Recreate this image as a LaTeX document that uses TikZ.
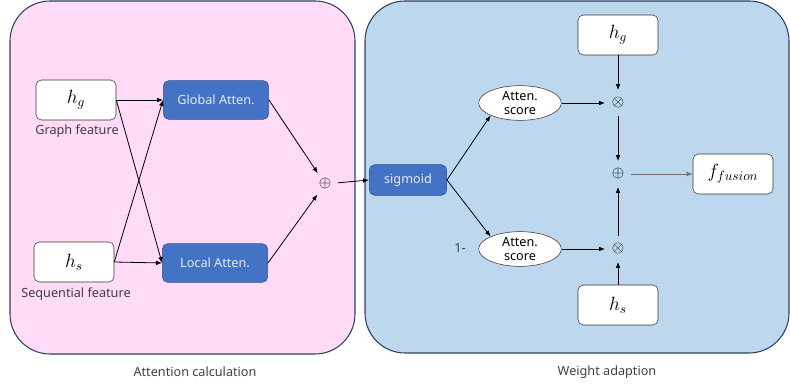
\documentclass[tikz,border=0pt]{standalone}
\usepackage{fontspec}
\setmainfont{Noto Sans}
\usetikzlibrary{shapes.geometric,arrows.meta}

\definecolor{pinkbg}{RGB}{255,219,247}
\definecolor{bluebg}{RGB}{189,215,238}
\definecolor{panelline}{RGB}{47,64,96}
\definecolor{attfill}{RGB}{68,114,196}
\definecolor{attline}{RGB}{47,82,143}
\definecolor{labelgray}{RGB}{64,64,64}

\begin{document}
\begin{tikzpicture}[x=0.75pt, y=-0.75pt, font=\fontsize{9.5}{10.5}\selectfont,
    panel/.style={draw=panelline, line width=0.8pt, rounded corners=30pt},
    featbox/.style={draw=black!80, fill=white, rounded corners=4pt, minimum width=60pt, minimum height=30pt, font=\Large},
    attbox/.style={draw=attline, fill=attfill, text=white!85!attfill, rounded corners=4pt, minimum width=79pt, minimum height=29pt},
    scorenode/.style={ellipse, draw=black!80, fill=white, minimum width=62pt, minimum height=26pt, inner sep=0pt, align=center, font=\fontsize{9.5}{11}\selectfont},
    opnode/.style={circle, inner sep=0pt, minimum size=19pt, font=\large},
    caption/.style={text=labelgray},
    arr/.style={-{Latex[length=4.5pt,width=3.5pt]}, line width=0.6pt}]

    \useasboundingbox (0,0) rectangle (790,388);

    % panels
    \draw[panel, fill=pinkbg] (10,1) rectangle (355,354);
    \draw[panel, fill=bluebg] (365,1) rectangle (789,353);

    % attention calculation
    \node[featbox] (hg) at (76,100) {$h_g$};
    \node[featbox] (hs) at (74,262) {$h_s$};
    \node[caption] (hglab) at (77,131) {Graph feature};
    \node[caption] (hslab) at (76,294) {Sequential feature};
    \node[attbox] (glob) at (216,100) {Global Atten.};
    \node[attbox] (loc) at (215,263) {Local Atten.};
    \node[opnode] (add1) at (325,184) {$\oplus$};
    \node[caption] (cap1) at (195,372) {Attention calculation};

    \draw[arr] (hg.east) -- (glob.west);
    \draw[arr] (hg.east) -- (loc.west);
    \draw[arr] (hs.east) -- (glob.west);
    \draw[arr] (hs.east) -- (loc.west);
    \draw[arr] (glob.east) -- (add1);
    \draw[arr] (loc.east) -- (add1);

    % weight adaption
    \node[attbox, minimum width=58pt, minimum height=23pt] (sig) at (408,180) {sigmoid};
    \node[scorenode] (s1) at (520,103) {Atten.\\score};
    \node[scorenode] (s2) at (520,249) {Atten.\\score};
    \node[caption] (one) at (460,248) {1-};
    \node[opnode] (mul1) at (618,103) {$\otimes$};
    \node[opnode] (mul2) at (618,249) {$\otimes$};
    \node[opnode] (add2) at (618,174) {$\oplus$};
    \node[featbox] (hg2) at (618,35) {$h_g$};
    \node[featbox] (hs2) at (618,305) {$h_s$};
    \node[featbox] (fus) at (733,174) {$f_{fusion}$};
    \node[caption] (cap2) at (607,372) {Weight adaption};

    \draw[arr] (add1) -- (sig.west);
    \draw[arr] (sig.east) -- (s1.south west);
    \draw[arr] (sig.east) -- (s2.north west);
    \draw[arr] (s1.east) -- (mul1);
    \draw[arr] (s2.east) -- (mul2);
    \draw[arr] (hg2.south) -- (mul1);
    \draw[arr] (hs2.north) -- (mul2);
    \draw[arr] (mul1) -- (add2);
    \draw[arr] (mul2) -- (add2);
    \draw[arr, draw=black!55] (add2) -- (fus.west);
\end{tikzpicture}
\end{document}
